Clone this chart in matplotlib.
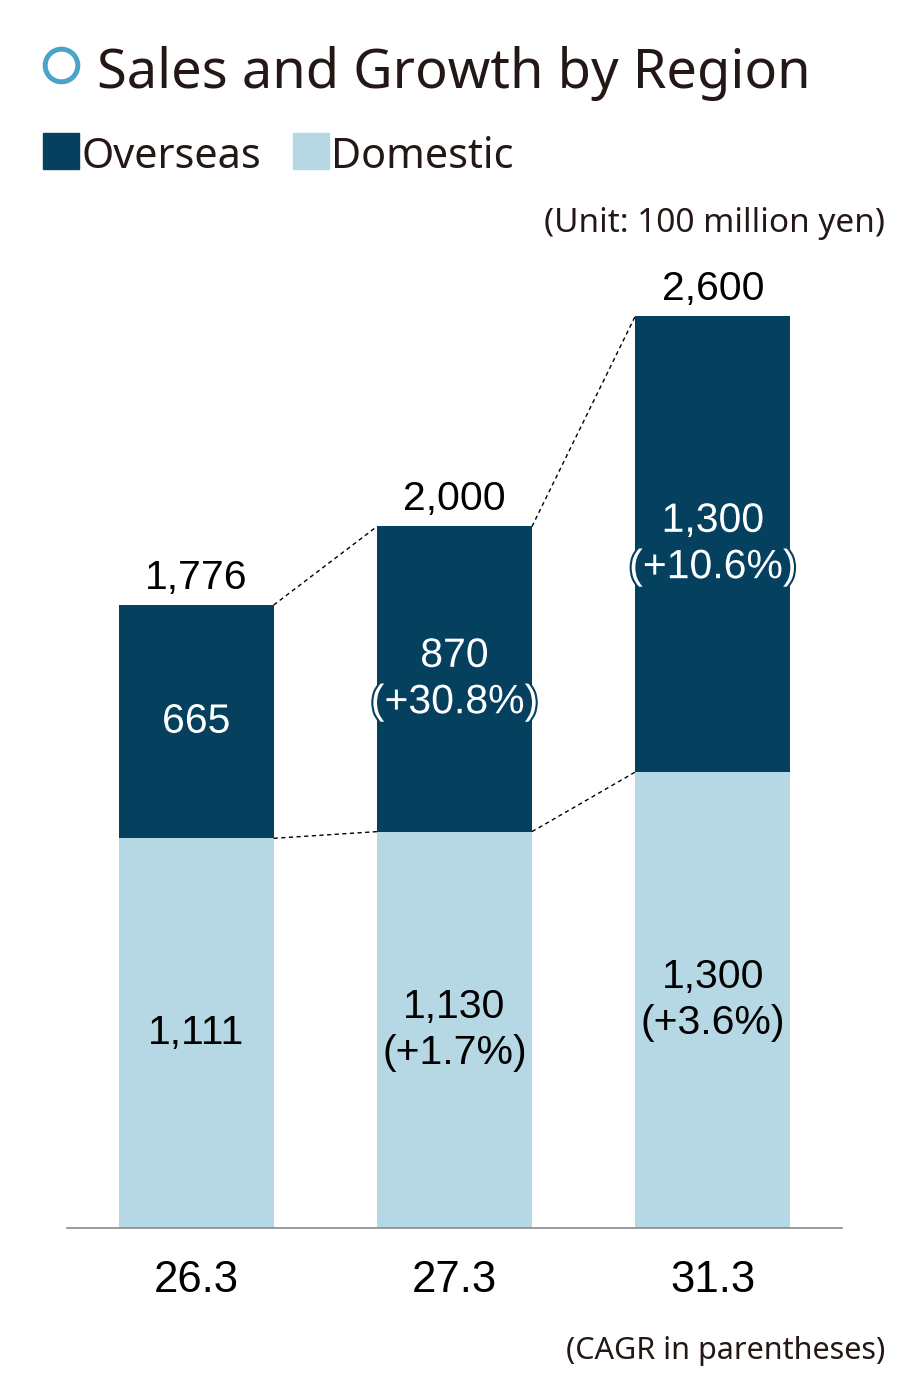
import matplotlib
matplotlib.use("Agg")
import matplotlib.pyplot as plt
import matplotlib.patheffects as pe
from matplotlib.lines import Line2D
from matplotlib.patches import Rectangle

# ---- data ----
periods = ["26.3", "27.3", "31.3"]
domestic = [1111, 1130, 1300]
overseas = [665, 870, 1300]
totals = [1776, 2000, 2600]
domestic_cagr = [None, "+1.7%", "+3.6%"]
overseas_cagr = [None, "+30.8%", "+10.6%"]

DARK = "#05415F"
LIGHT = "#B5D8E4"
TXT = "#231815"
RING = "#4BA3C8"
NUMFONT = "Liberation Sans"
SANS = "Noto Sans"

W, H = 911, 1389
fig = plt.figure(figsize=(W / 100, H / 100), dpi=100)

def fx(x):
    return x / W

def fy(y):
    return 1 - y / H

ax_bottom_px = 1228
scale = (1228 - 316) / 2600.0
ymax = 2800
ax_top_px = ax_bottom_px - ymax * scale
ax = fig.add_axes([fx(67), fy(ax_bottom_px), (842 - 67) / W, (ax_bottom_px - ax_top_px) / H])
ax.set_xlim(-0.5, 2.5)
ax.set_ylim(0, ymax)

x = list(range(len(periods)))
bw = 0.6
ax.bar(x, domestic, width=bw, color=LIGHT, zorder=2)
ax.bar(x, overseas, width=bw, bottom=domestic, color=DARK, zorder=2)

# dashed connectors
for i in range(len(x) - 1):
    for series in (totals, domestic):
        ax.plot([x[i] + bw / 2, x[i + 1] - bw / 2], [series[i], series[i + 1]],
                color="black", lw=1.0, ls=(0, (3, 2.5)), zorder=3)

# labels
for i in x:
    ax.annotate(f"{totals[i]:,}", (x[i], totals[i]), xytext=(0, 11.5),
                textcoords="offset points", ha="center", va="baseline",
                fontsize=29.5, family=NUMFONT, color="black")
    t = f"{overseas[i]:,}" if overseas_cagr[i] is None else f"{overseas[i]:,}\n({overseas_cagr[i]})"
    ax.text(x[i], domestic[i] + overseas[i] / 2, t, ha="center", va="center",
            fontsize=29.5, family=NUMFONT, color="white", linespacing=1.28, zorder=4,
            path_effects=[pe.withStroke(linewidth=3, foreground=DARK)])
    t = f"{domestic[i]:,}" if domestic_cagr[i] is None else f"{domestic[i]:,}\n({domestic_cagr[i]})"
    ax.text(x[i], domestic[i] / 2, t, ha="center", va="center",
            fontsize=29.5, family=NUMFONT, color="black", linespacing=1.28, zorder=4)

ax.set_xticks(x)
ax.set_xticklabels(periods, fontsize=31.5, family=NUMFONT, color="black")
ax.tick_params(axis="x", length=0, pad=23)
ax.set_yticks([])
for s in ("top", "right", "left"):
    ax.spines[s].set_visible(False)
ax.spines["bottom"].set_color("#8a8a8a")
ax.spines["bottom"].set_linewidth(1.2)
ax.set_facecolor("none")

# title with ring
fig.add_artist(Line2D([fx(60.5)], [fy(65)], marker="o", markersize=23.5,
                      markerfacecolor="none", markeredgecolor=RING, markeredgewidth=3.6,
                      transform=fig.transFigure))
fig.text(fx(97), fy(67), "Sales and Growth by Region", fontsize=39, family=SANS,
         color=TXT, ha="left", va="center_baseline")

# legend
for xs, lbl, col in ((43, "Overseas", DARK), (293, "Domestic", LIGHT)):
    fig.add_artist(Rectangle((fx(xs), fy(169)), 36 / W, 36 / H, color=col,
                             transform=fig.transFigure))
    fig.text(fx(xs + 38), fy(152), lbl, fontsize=29.8, family=SANS, color=TXT,
             ha="left", va="center_baseline")

fig.text(fx(885), fy(220), "(Unit: 100 million yen)", fontsize=24, family=SANS,
         color=TXT, ha="right", va="center_baseline")
fig.text(fx(885), fy(1348), "(CAGR in parentheses)", fontsize=22, family=SANS,
         color=TXT, ha="right", va="center_baseline")

fig.savefig("out.png", dpi=100, facecolor="white")
